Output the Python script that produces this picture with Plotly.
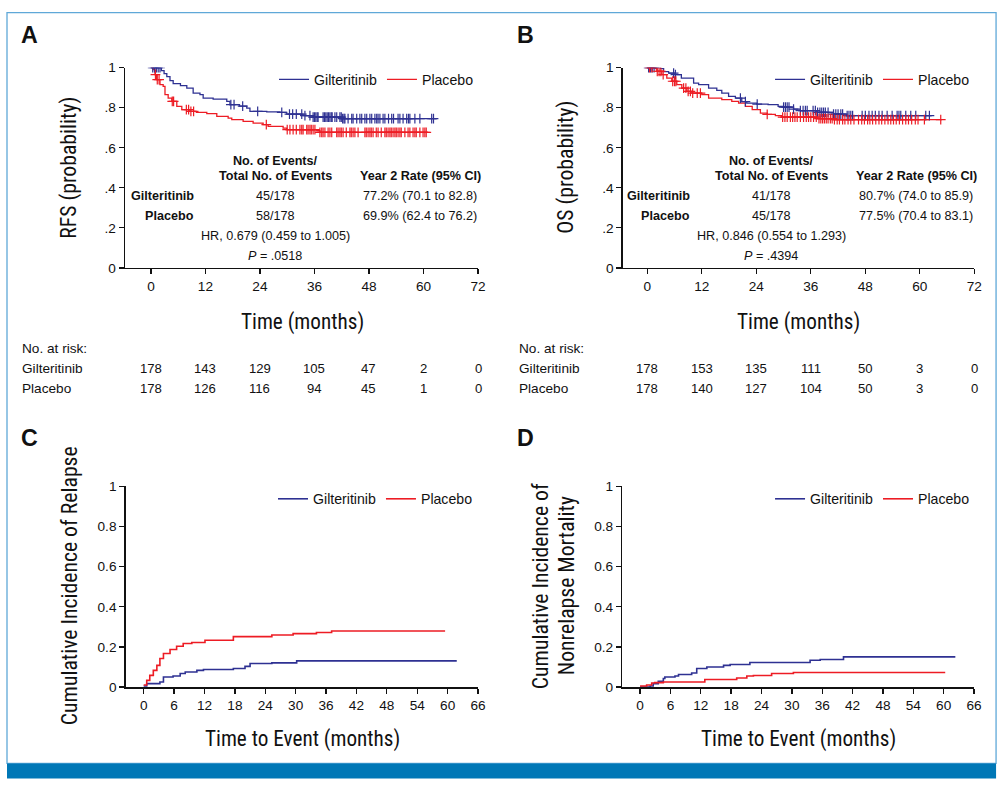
import numpy as np
import plotly.graph_objects as go

# ---------------- data ----------------
arms = ["Gilteritinib", "Placebo"]

# Panel A: RFS Kaplan-Meier (months, probability)
rfs_g_t = [0, 2.3, 2.9, 3.5, 4.2, 4.9, 6.5, 7.9, 9.3, 10.8, 11.5, 13.7, 16.7, 17.4, 19.5, 21.1, 21.8, 25.5, 28.4, 29.9, 33.5, 35.7, 42.0, 62.9]
rfs_g_s = [1.0, 0.985, 0.97, 0.955, 0.935, 0.92, 0.91, 0.898, 0.873, 0.865, 0.848, 0.843, 0.832, 0.815, 0.808, 0.798, 0.782, 0.779, 0.777, 0.768, 0.76, 0.753, 0.745, 0.745]
rfs_p_t = [0, 0.5, 0.9, 1.25, 2.0, 2.7, 3.1, 3.8, 4.6, 5.7, 6.8, 8.6, 10.0, 12.3, 14.5, 17.0, 17.8, 20.3, 22.5, 24.7, 25.8, 29.1, 29.9, 36.5, 37.2, 61.0]
rfs_p_s = [1.0, 0.99, 0.965, 0.94, 0.915, 0.907, 0.865, 0.848, 0.832, 0.807, 0.79, 0.782, 0.777, 0.77, 0.757, 0.748, 0.74, 0.732, 0.723, 0.715, 0.707, 0.698, 0.69, 0.685, 0.677, 0.677]
rfs_g_cens = [0.4, 0.8, 1.2, 1.6, 2.0, 17.6, 18.3, 20.2, 23.5, 28.8, 30.5, 31.2, 32.0, 33.2, 33.9, 35.0, 35.7, 36.0, 36.3, 36.6, 36.8,
              37.9, 38.2, 38.5, 38.8, 39.1, 39.4, 39.7, 39.9, 40.5, 40.9, 41.6, 41.9, 42.2, 42.5, 42.7, 43.4, 44.2, 44.5, 45.3,
              46.0, 46.4, 47.1, 47.5, 48.2, 48.6, 49.3, 49.7, 50.0, 50.4, 51.1, 51.5, 52.3, 53.0, 53.4, 54.4, 54.8, 55.5, 56.3,
              56.7, 57.0, 58.1, 59.2, 61.8, 62.2]
rfs_p_cens = [1.0, 1.4, 1.8, 4.7, 5.0, 7.8, 8.3, 8.8, 9.4, 25.4, 30.0, 30.6, 31.3, 32.0, 32.8, 33.2, 33.5, 34.3, 34.6, 35.0, 35.3,
              35.7, 36.1, 37.2, 37.6, 37.9, 38.3, 39.0, 39.4, 39.8, 40.9, 41.2, 41.6, 41.9, 42.3, 43.0, 43.8, 44.1, 44.5, 44.9,
              45.6, 47.1, 47.4, 47.8, 48.2, 48.5, 48.9, 49.6, 50.0, 50.7, 51.5, 51.8, 52.2, 52.6, 52.9, 53.3, 53.7, 54.0, 54.4,
              54.8, 55.1, 55.9, 56.6, 57.0, 57.7, 58.1, 58.4, 59.2, 59.9, 60.3, 60.6]

# Panel B: OS Kaplan-Meier
os_g_t = [0, 2.9, 3.6, 4.7, 6.2, 7.5, 10.2, 11.3, 13.5, 15.3, 16.4, 17.9, 19.4, 20.8, 21.9, 24.1, 26.6, 28.8, 30.0, 32.2, 33.7, 37.3, 41.0, 43.9, 62.7]
os_g_s = [1.0, 0.995, 0.98, 0.973, 0.965, 0.948, 0.923, 0.915, 0.898, 0.887, 0.873, 0.857, 0.848, 0.83, 0.823, 0.818, 0.815, 0.807, 0.803, 0.793, 0.785, 0.777, 0.768, 0.76, 0.76]
os_p_t = [0, 1.8, 2.1, 3.2, 4.3, 5.4, 6.5, 7.6, 8.7, 9.8, 12.0, 13.5, 16.4, 18.6, 20.1, 21.6, 23.1, 24.9, 26.4, 28.2, 29.6, 37.3, 41.0, 64.9]
os_p_s = [1.0, 0.995, 0.982, 0.965, 0.948, 0.932, 0.915, 0.898, 0.882, 0.873, 0.865, 0.848, 0.84, 0.832, 0.823, 0.807, 0.79, 0.773, 0.767, 0.76, 0.753, 0.745, 0.74, 0.74]
os_g_cens = [0.3, 0.7, 1.1, 1.5, 5.8, 6.2, 20.5, 21.6, 24.2, 30.0, 30.4, 30.8, 31.2, 32.2, 33.7, 34.3, 34.8, 35.2, 36.5, 37.0,
             37.5, 38.0, 38.4, 38.8, 39.2, 39.8, 41.0, 41.5, 42.0, 42.6, 43.0, 44.0, 44.4, 44.8, 45.2, 47.3, 48.0, 48.8, 49.5,
             50.2, 51.0, 51.7, 52.8, 53.9, 55.0, 55.4, 55.8, 56.9, 58.0, 59.1, 61.3, 62.1]
os_p_cens = [0.5, 1.0, 2.2, 2.6, 3.0, 3.5, 5.6, 6.0, 6.3, 8.0, 8.5, 9.0, 9.5, 10.0, 11.0, 11.7, 26.4, 29.8, 30.3, 30.8, 31.5,
             32.0, 32.5, 33.0, 33.7, 34.4, 35.0, 35.5, 36.0, 36.6, 37.2, 37.8, 38.2, 38.6, 39.0, 39.4, 39.8, 40.3, 40.7, 41.2,
             41.8, 42.3, 43.0, 43.5, 44.2, 44.8, 45.5, 46.5, 47.2, 47.8, 48.5, 49.0, 49.6, 50.3, 51.0, 51.6, 52.3, 53.0, 53.6,
             54.2, 54.8, 55.5, 56.2, 56.9, 57.5, 58.2, 59.0, 59.6, 61.0, 64.6]

# Panel C: cumulative incidence of relapse
cir_g_t = [0, 0.6, 3.2, 3.9, 5.8, 7.2, 8.2, 10.5, 11.8, 17.7, 20.0, 21.0, 25.3, 30.2, 61.8]
cir_g_v = [0.005, 0.017, 0.025, 0.05, 0.055, 0.067, 0.075, 0.083, 0.087, 0.092, 0.103, 0.117, 0.12, 0.13, 0.13]
cir_p_t = [0, 0.6, 1.2, 1.9, 2.6, 3.2, 3.9, 5.2, 6.5, 7.8, 9.5, 12.1, 17.7, 25.3, 29.5, 34.1, 37.1, 59.5]
cir_p_v = [0.01, 0.033, 0.058, 0.083, 0.108, 0.142, 0.167, 0.187, 0.203, 0.217, 0.222, 0.233, 0.251, 0.259, 0.266, 0.272, 0.279, 0.279]

# Panel D: cumulative incidence of nonrelapse mortality
nrm_g_t = [0, 2.0, 2.6, 3.6, 4.6, 4.9, 6.9, 7.6, 10.2, 11.2, 13.2, 16.5, 17.8, 21.7, 33.6, 35.6, 40.2, 62.3]
nrm_g_v = [0.0, 0.005, 0.017, 0.028, 0.042, 0.05, 0.055, 0.062, 0.07, 0.092, 0.1, 0.108, 0.112, 0.122, 0.133, 0.137, 0.15, 0.15]
nrm_p_t = [0, 1.3, 2.3, 2.9, 4.6, 12.8, 19.1, 21.1, 22.4, 26.0, 30.3, 60.3]
nrm_p_v = [0.005, 0.01, 0.02, 0.022, 0.025, 0.037, 0.045, 0.055, 0.057, 0.067, 0.072, 0.072]

# Tables
km_ticks = [0, 0.2, 0.4, 0.6, 0.8, 1]
km_ticktext = ["0", ".2", ".4", ".6", ".8", "1"]
risk_times = [0, 12, 24, 36, 48, 60, 72]
rfs_risk_g = [178, 143, 129, 105, 47, 2, 0]
rfs_risk_p = [178, 126, 116, 94, 45, 1, 0]
os_risk_g = [178, 153, 135, 111, 50, 3, 0]
os_risk_p = [178, 140, 127, 104, 50, 3, 0]
rfs_events = ["45/178", "58/178"]
rfs_rates = ["77.2% (70.1 to 82.8)", "69.9% (62.4 to 76.2)"]
rfs_hr = "HR, 0.679 (0.459 to 1.005)"
rfs_p = ".0518"
os_events = ["41/178", "45/178"]
os_rates = ["80.7% (74.0 to 85.9)", "77.5% (70.4 to 83.1)"]
os_hr = "HR, 0.846 (0.554 to 1.293)"
os_p = ".4394"

# ---------------- style ----------------
BLUE = "#2e3192"
RED = "#ed1c24"
INK = "#111111"
FONT = "Liberation Sans, Arial, Helvetica, sans-serif"
NARROW = "Liberation Sans Narrow, Arial Narrow, Roboto Condensed, sans-serif"
W, H = 1008, 790
# layout positions below are given in picture pixels; the capture maps page
# pixels (x, y) to (0.992 x, 7.4 + 0.98 y), so convert back to page fractions
SX, SY, OY = 0.992, 0.98, 7.4
FS = 1.01


def px(x):
    return x / SX / W


def py(y):
    return 1 - (y - OY) / SY / H


def step_at(ts, ss, cens):
    ts = np.asarray(ts)
    ss = np.asarray(ss)
    idx = np.searchsorted(ts, np.asarray(cens), side="right") - 1
    return ss[np.clip(idx, 0, len(ss) - 1)]


fig = go.Figure()

panels = [
    ("x", "y", "legend", [(rfs_g_t, rfs_g_s, rfs_g_cens), (rfs_p_t, rfs_p_s, rfs_p_cens)], 1.3),
    ("x2", "y2", "legend2", [(os_g_t, os_g_s, os_g_cens), (os_p_t, os_p_s, os_p_cens)], 1.3),
    ("x3", "y3", "legend3", [(cir_g_t, cir_g_v, None), (cir_p_t, cir_p_v, None)], 1.6),
    ("x4", "y4", "legend4", [(nrm_g_t, nrm_g_v, None), (nrm_p_t, nrm_p_v, None)], 1.6),
]
colors = [BLUE, RED]
for xa, ya, lg, series, lw in panels:
    for (t, s, cens), name, col in zip(series, arms, colors):
        fig.add_trace(go.Scatter(x=t, y=s, mode="lines", line=dict(color=col, width=lw, shape="hv"),
                                 name=name, xaxis=xa, yaxis=ya, legend=lg, showlegend=True, hoverinfo="skip"))
    for (t, s, cens), name, col in zip(series, arms, colors):
        if cens is not None:
            fig.add_trace(go.Scatter(x=cens, y=step_at(t, s, cens), mode="markers",
                                     marker=dict(symbol="cross-thin", size=7, line=dict(color=col, width=1.2)),
                                     xaxis=xa, yaxis=ya, showlegend=False, hoverinfo="skip"))

axis_common = dict(showline=True, linecolor=INK, linewidth=1.5, ticks="outside", ticklen=5, tickwidth=1.3,
                   tickcolor=INK, showgrid=False, zeroline=False,
                   tickfont=dict(family=FONT, size=13.5 * FS, color=INK))

fig.update_layout(
    width=W, height=H, margin=dict(l=0, r=0, t=0, b=0),
    paper_bgcolor="white", plot_bgcolor="rgba(0,0,0,0)",
    xaxis=dict(domain=[px(125), px(478)], range=[-5.7, 72], tickvals=risk_times, anchor="y", **axis_common),
    yaxis=dict(domain=[py(268), py(68)], range=[0, 1], tickvals=km_ticks, ticktext=km_ticktext, anchor="x", **axis_common),
    xaxis2=dict(domain=[px(622.7), px(974.3)], range=[-5.4, 72], tickvals=risk_times, anchor="y2", **axis_common),
    yaxis2=dict(domain=[py(268), py(68)], range=[0, 1], tickvals=km_ticks, ticktext=km_ticktext, anchor="x2", **axis_common),
    xaxis3=dict(domain=[px(125.7), px(478)], range=[-3.55, 66], dtick=6, tick0=0, anchor="y3", **axis_common),
    yaxis3=dict(domain=[py(686.7), py(486.3)], range=[0, 1], dtick=0.2, anchor="x3", **axis_common),
    xaxis4=dict(domain=[px(622.3), px(974)], range=[-3.5, 66], dtick=6, tick0=0, anchor="y4", **axis_common),
    yaxis4=dict(domain=[py(686.7), py(486.3)], range=[0, 1], dtick=0.2, anchor="x4", **axis_common),
)

leg_common = dict(orientation="h", xanchor="left", yanchor="middle", bgcolor="rgba(0,0,0,0)",
                  font=dict(family=FONT, size=14 * FS, color=INK), itemwidth=30, borderwidth=0)
fig.update_layout(
    legend=dict(x=px(274), y=py(80), **leg_common),
    legend2=dict(x=px(770), y=py(80), **leg_common),
    legend3=dict(x=px(273), y=py(499), **leg_common),
    legend4=dict(x=px(770), y=py(499), **leg_common),
)

ann = []


def text(x, y, s, size=12.5, anchor="center", family=FONT, angle=0):
    ann.append(dict(x=px(x), y=py(y), xref="paper", yref="paper", text=s, showarrow=False,
                    xanchor=anchor, yanchor="middle", textangle=angle,
                    font=dict(family=family, size=size * FS, color=INK)))


# panel letters
for letter, (lx, ly) in zip("ABCD", [(29, 35), (525, 35), (29, 438), (525, 438)]):
    text(lx, ly, "<b>%s</b>" % letter, size=23)

# axis titles
text(302, 322, "Time (months)", size=21, family=NARROW)
text(798.5, 322, "Time (months)", size=21, family=NARROW)
text(302, 739, "Time to Event (months)", size=21, family=NARROW)
text(798, 739, "Time to Event (months)", size=21, family=NARROW)
text(69, 168, "RFS (probability)", size=21.5, family=NARROW, angle=-90)
text(566, 168, "OS (probability)", size=21.5, family=NARROW, angle=-90)
text(69, 586, "Cumulative Incidence of Relapse", size=21.5, family=NARROW, angle=-90)
text(540, 586, "Cumulative Incidence of", size=21.5, family=NARROW, angle=-90)
text(566, 586, "Nonrelapse Mortality", size=21.5, family=NARROW, angle=-90)

# in-plot tables
for dx, events, rates, hr, pv in [(0, rfs_events, rfs_rates, rfs_hr, rfs_p), (496, os_events, os_rates, os_hr, os_p)]:
    text(275 + dx, 161, "<b>No. of Events/</b>")
    text(275 + dx, 176, "<b>Total No. of Events</b>")
    text(420 + dx, 176, "<b>Year 2 Rate (95% CI)</b>")
    for i, (arm, yy) in enumerate(zip(arms, [196, 216])):
        text(196 + dx, yy, "<b>%s</b>" % arm, anchor="right")
        text(275 + dx, yy, events[i])
        text(420 + dx, yy, rates[i])
    text(275 + dx, 236, hr)
    text(275 + dx, 256, "<i>P</i> = %s" % pv)

# numbers at risk
for lx, xref, rg, rp in [(20, "x", rfs_risk_g, rfs_risk_p), (517, "x2", os_risk_g, os_risk_p)]:
    text(lx, 349, "No. at risk:", size=13.5, anchor="left")
    for arm, yy, vals in zip(arms, [368.5, 388.5], [rg, rp]):
        text(lx, yy, arm, size=13.5, anchor="left")
        for tt, v in zip(risk_times, vals):
            ann.append(dict(x=tt, y=py(yy), xref=xref, yref="paper", text=str(v), showarrow=False,
                            xanchor="center", yanchor="middle",
                            font=dict(family=FONT, size=13 * FS, color=INK)))

fig.update_layout(annotations=ann)

fig.update_layout(shapes=[
    dict(type="rect", xref="paper", yref="paper", x0=px(7), x1=px(996), y0=py(763), y1=py(13),
         line=dict(color="#5fa8d8", width=1.3), layer="below"),
    dict(type="rect", xref="paper", yref="paper", x0=px(7), x1=px(996), y0=py(778), y1=py(763),
         fillcolor="#0077b6", line=dict(width=0), layer="below"),
])

fig.write_html(
    "out.html",
    config={"displayModeBar": False, "staticPlot": True},
    post_script=("document.documentElement.style.margin='0';document.body.style.margin='0';"
                 "document.body.style.padding='0';document.body.style.overflow='hidden';"
                 "var d=document.getElementById('{plot_id}');d.style.position='fixed';"
                 "d.style.left='0px';d.style.top='0px';"),
)
